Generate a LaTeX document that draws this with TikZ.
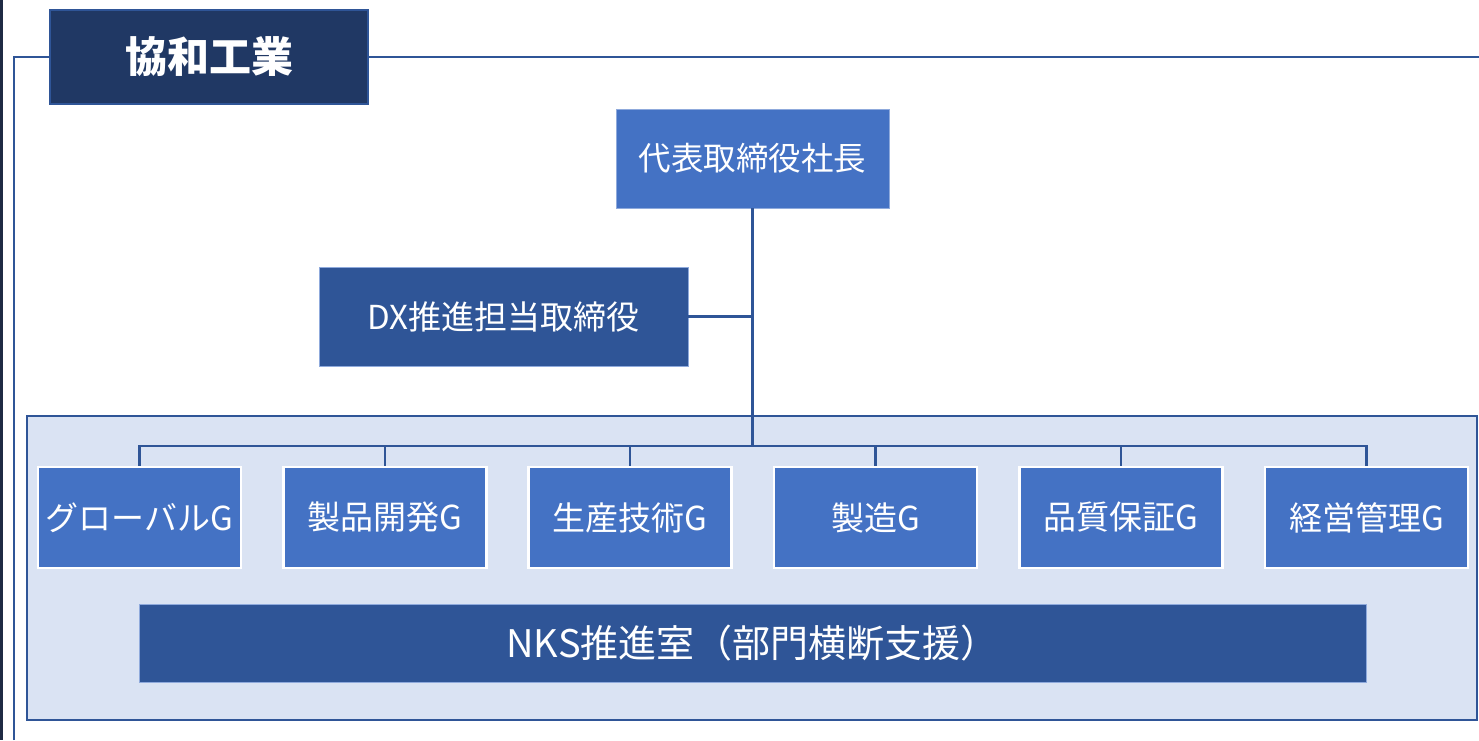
\documentclass[tikz,border=0pt]{standalone}
\usepackage{fontspec}
\setmainfont{Noto Sans CJK JP}
\definecolor{navy}{HTML}{203864}
\definecolor{midblue}{HTML}{2F5597}
\definecolor{boxblue}{HTML}{4472C4}
\definecolor{panelfill}{HTML}{DAE3F3}
\definecolor{edgelite}{HTML}{8FAADC}
\definecolor{leftedge}{HTML}{1F2A44}
\tikzset{
  conn/.style={draw=midblue, line width=2.2pt},
  framestyle/.style={draw=midblue, line width=2.2pt},
  titlebox/.style={fill=navy, draw=midblue, line width=1.2pt, minimum width=318pt, minimum height=94pt, inner sep=0pt, text=white, font=\fontsize{42}{42}\selectfont\bfseries},
  topbox/.style={fill=boxblue, draw=edgelite, line width=0.8pt, inner sep=0pt, text=white, font=\fontsize{32.5}{32.5}\selectfont},
  darkbox/.style={fill=midblue, draw=edgelite, line width=0.8pt, inner sep=0pt, text=white, font=\fontsize{33}{33}\selectfont},
  groupbox/.style={fill=boxblue, draw=white, line width=2.2pt, minimum width=203pt, minimum height=101pt, inner sep=0pt, text=white, font=\fontsize{33}{33}\selectfont},
  panelbox/.style={fill=panelfill, draw=midblue, line width=2.2pt, inner sep=0pt}
}
\begin{document}
\begin{tikzpicture}[x=1pt,y=-1pt]
\useasboundingbox (0,0) rectangle (1479,740);
\fill[white] (0,0) rectangle (1479,740);
% left dark edge
\coordinate (eT) at (1.2,0);
\coordinate (eB) at (1.2,740);
\draw[draw=leftedge, line width=2.6pt] (eT) -- (eB);
% frame
\coordinate (fBL) at (14,740);
\coordinate (fTL) at (14,57);
\coordinate (fTR) at (1479,57);
\draw[framestyle] (fBL) -- (fTL) -- (fTR);
% title
\node[titlebox] (title) at (209,57) {協和工業};
% panel
\node[panelbox, minimum width=1450pt, minimum height=304pt] (panel) at (752,568) {};
% president
\node[topbox, minimum width=273pt, minimum height=99pt] (pres) at (752.5,158.5) {代表取締役社長};
% DX
\node[darkbox, minimum width=369pt, minimum height=99pt] (dx) at (503.5,316.5) {DX推進担当取締役};
% groups
\node[groupbox] (g1) at (139.5,517.5) {グローバルG};
\node[groupbox] (g2) at (385,517.5) {製品開発G};
\node[groupbox] (g3) at (630,517.5) {生産技術G};
\node[groupbox] (g4) at (875.5,517.5) {製造G};
\node[groupbox] (g5) at (1121,517.5) {品質保証G};
\node[groupbox] (g6) at (1366.5,517.5) {経営管理G};
% NKS
\node[darkbox, minimum width=1227pt, minimum height=78pt, font=\fontsize{38}{38}\selectfont] (nks) at (752.5,643) {NKS推進室（部門横断支援）};
% connectors
\coordinate (bus) at (752.5,446);
\draw[conn] (pres.south) -- (bus);
\draw[conn] (dx.east) -- (dx.east -| pres.south);
\draw[conn] (g1.north) |- (bus) -| (g6.north);
\draw[conn] (g2.north) -- (g2.north |- bus);
\draw[conn] (g3.north) -- (g3.north |- bus);
\draw[conn] (g4.north) -- (g4.north |- bus);
\draw[conn] (g5.north) -- (g5.north |- bus);
\end{tikzpicture}
\end{document}
